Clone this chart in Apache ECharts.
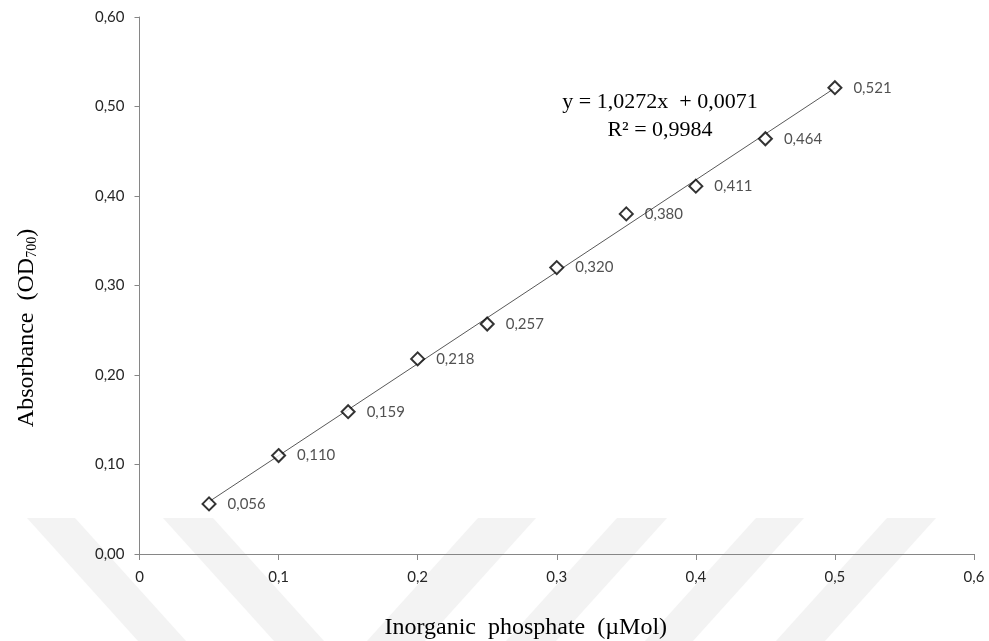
<!DOCTYPE html>
<html>
<head>
<meta charset="utf-8">
<script src="https://cdn.jsdelivr.net/npm/echarts@6/dist/echarts.min.js"></script>
<style>html,body{margin:0;padding:0;background:#fff;}#chart{width:989px;height:641px;}</style>
</head>
<body>
<div id="chart"></div>
<script>
// Data
const phosphate = [0.05, 0.10, 0.15, 0.20, 0.25, 0.30, 0.35, 0.40, 0.45, 0.50];
const absorbance = [0.056, 0.110, 0.159, 0.218, 0.257, 0.320, 0.380, 0.411, 0.464, 0.521];
const trendX = [0.05, 0.50];
const trendY = [0.0585, 0.5207];
const equationLines = ['y = 1,0272x  + 0,0071', 'R\u00B2 = 0,9984'];
const xAxisTitle = 'Inorganic  phosphate  (\u00B5Mol)';

const chart = echarts.init(document.getElementById('chart'));
const tickFont = { fontFamily: 'Lato', fontSize: 15, color: '#262626' };
const serif = 'Liberation Serif, Times New Roman, serif';
const wm = '#f3f3f3';
const band = (pts) => ({ type: 'polygon', z: -10, silent: true, shape: { points: pts }, style: { fill: wm } });

chart.setOption({
  backgroundColor: '#fff',
  animation: false,
  grid: { left: 139.5, right: 15, top: 17, bottom: 87, containLabel: false, outerBoundsMode: 'none' },
  xAxis: {
    type: 'value', min: 0, max: 0.6, interval: 0.1,
    name: xAxisTitle, nameLocation: 'middle', nameGap: 62,
    nameTextStyle: { fontFamily: serif, fontSize: 24, color: '#000', padding: [0, 62, 0, 0] },
    axisLine: { show: true, lineStyle: { color: '#868686', width: 1 } },
    axisTick: { show: true, length: 6, lineStyle: { color: '#868686' } },
    splitLine: { show: false },
    axisLabel: Object.assign({ margin: 16, formatter: v => (Math.round(v * 10) / 10).toString().replace('.', ',') }, tickFont)
  },
  yAxis: {
    type: 'value', min: 0, max: 0.6, interval: 0.1,
    name: 'Absorbance  (OD{sub|700})', nameLocation: 'middle', nameGap: 100,
    nameTextStyle: { fontFamily: serif, fontSize: 24, color: '#000', padding: [0, 85, 0, 0],
      rich: { sub: { fontFamily: serif, fontSize: 14, color: '#000', verticalAlign: 'bottom', padding: [12, 0, 0, 0] } } },
    axisLine: { show: true, lineStyle: { color: '#868686', width: 1 } },
    axisTick: { show: true, length: 5, lineStyle: { color: '#868686' } },
    splitLine: { show: false },
    axisLabel: Object.assign({ margin: 15, formatter: v => v.toFixed(2).replace('.', ',') }, tickFont)
  },
  series: [
    {
      type: 'line', z: 1, silent: true, showSymbol: false,
      data: trendX.map((x, i) => [x, trendY[i]]),
      lineStyle: { color: '#595959', width: 1 }
    },
    {
      type: 'scatter', z: 3,
      data: phosphate.map((x, i) => [x, absorbance[i]]),
      symbol: 'diamond', symbolSize: 13,
      itemStyle: { color: '#fff', borderColor: '#000', borderWidth: 2 },
      label: {
        show: true, position: 'right', distance: 11,
        fontFamily: 'Lato', fontSize: 15, color: '#262626',
        formatter: p => p.value[1].toFixed(3).replace('.', ',')
      }
    }
  ],
  graphic: [
    band([[27,518],[75,518],[186,641],[138,641]]),
    band([[163,518],[213,518],[324,641],[274,641]]),
    band([[478,518],[536,518],[425,641],[367,641]]),
    band([[617,518],[667,518],[556,641],[506,641]]),
    band([[756,518],[804,518],[693,641],[645,641]]),
    band([[887,518],[936,518],[825,641],[776,641]]),
    { type: 'text', z: 10, x: 660, y: 102, style: { text: equationLines[0], fontFamily: serif, fontSize: 22, fill: '#000', align: 'center', verticalAlign: 'middle' } },
    { type: 'text', z: 10, x: 660, y: 130, style: { text: equationLines[1], fontFamily: serif, fontSize: 22, fill: '#000', align: 'center', verticalAlign: 'middle' } }
  ]
});
</script>
</body>
</html>
